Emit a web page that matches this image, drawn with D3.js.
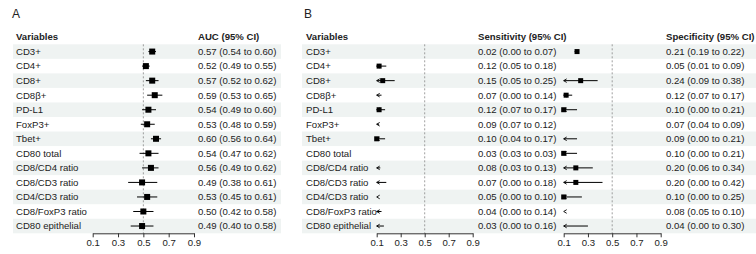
<!DOCTYPE html>
<html>
<head>
<meta charset="utf-8">
<script src="https://cdn.jsdelivr.net/npm/d3@7"></script>
<style>
  body { margin: 0; background: #fff; }
  svg text { font-family: "Liberation Sans", Arial, sans-serif; fill: #222; }
</style>
</head>
<body>
<svg id="chart" width="756" height="254"></svg>
<script>
// rows
var variables = ["CD3+", "CD4+", "CD8+", "CD8\u03b2+", "PD-L1", "FoxP3+", "Tbet+", "CD80 total",
  "CD8/CD4 ratio", "CD8/CD3 ratio", "CD4/CD3 ratio", "CD8/FoxP3 ratio", "CD80 epithelial"];

// panel A - AUC
var auc   = [0.57, 0.52, 0.57, 0.59, 0.54, 0.53, 0.60, 0.54, 0.56, 0.49, 0.53, 0.50, 0.49];
var aucLo = [0.54, 0.49, 0.52, 0.53, 0.49, 0.48, 0.56, 0.47, 0.49, 0.38, 0.45, 0.42, 0.40];
var aucHi = [0.60, 0.55, 0.62, 0.65, 0.60, 0.59, 0.64, 0.62, 0.62, 0.61, 0.61, 0.58, 0.58];

// panel B - sensitivity / specificity
var sens   = [0.02, 0.12, 0.15, 0.07, 0.12, 0.09, 0.10, 0.03, 0.08, 0.07, 0.05, 0.04, 0.03];
var sensLo = [0.00, 0.05, 0.05, 0.00, 0.07, 0.07, 0.04, 0.03, 0.03, 0.00, 0.00, 0.00, 0.00];
var sensHi = [0.07, 0.18, 0.25, 0.14, 0.17, 0.12, 0.17, 0.03, 0.13, 0.18, 0.10, 0.14, 0.16];
var spec   = [0.21, 0.05, 0.24, 0.12, 0.10, 0.07, 0.09, 0.10, 0.20, 0.20, 0.10, 0.08, 0.04];
var specLo = [0.19, 0.01, 0.09, 0.07, 0.00, 0.04, 0.00, 0.00, 0.06, 0.00, 0.00, 0.05, 0.00];
var specHi = [0.22, 0.09, 0.38, 0.17, 0.21, 0.09, 0.21, 0.21, 0.34, 0.42, 0.25, 0.10, 0.30];

var tickValues = [0.1, 0.3, 0.5, 0.7, 0.9];

var fmt = d3.format(".2f");
function ciLabel(v, lo, hi) {
  return fmt(v) + " (" + fmt(lo) + " to " + fmt(hi) + ")";
}

var svg = d3.select("#chart");
var fontSize = 9.6;

var yScale = d3.scaleBand()
  .domain(variables)
  .range([44.3, 233.3]);
var bh = yScale.bandwidth();
function yMid(i) { return yScale(variables[i]) + bh / 2; }

var axisY = 233.3;

function drawBands(x0, x1) {
  svg.append("g").selectAll("rect")
    .data(variables.filter(function(d, i) { return i % 2 === 0; }))
    .enter().append("rect")
      .attr("x", x0)
      .attr("width", x1 - x0)
      .attr("y", function(d) { return yScale(d); })
      .attr("height", bh)
      .attr("fill", "#eff3f2");
}

function drawTextCol(x, header, labels) {
  var g = svg.append("g");
  g.append("text")
    .attr("x", x).attr("y", 37).attr("dy", "0.35em")
    .style("font-size", fontSize + "px").style("font-weight", "bold")
    .text(header);
  g.selectAll("text.cell")
      .data(labels)
    .enter().append("text")
      .classed("cell", true)
      .attr("x", x)
      .attr("y", function(d, i) { return yMid(i); })
      .attr("dy", "0.35em")
      .style("font-size", fontSize + "px")
      .text(function(d) { return d; });
}

function drawForest(x0, x1, est, lo, hi, boxSize) {
  var xScale = d3.scaleLinear().domain([0.1, 0.9]).range([x0, x1]);
  var g = svg.append("g");

  // reference line
  g.append("line")
    .attr("x1", xScale(0.5)).attr("x2", xScale(0.5))
    .attr("y1", 44.3).attr("y2", axisY)
    .attr("stroke", "#888").attr("stroke-width", 0.8)
    .attr("stroke-dasharray", "2,2");

  var axis = d3.axisBottom(xScale)
    .tickValues(tickValues)
    .tickFormat(d3.format(".1f"))
    .tickSize(4)
    .tickSizeOuter(0);
  var ax = g.append("g")
    .attr("transform", "translate(0," + axisY + ")")
    .call(axis);
  ax.select(".domain").attr("stroke", "#333");
  ax.selectAll(".tick line").attr("stroke", "#333");
  ax.selectAll(".tick text")
    .attr("y", 6)
    .style("font-size", fontSize + "px")
    .style("font-family", "'Liberation Sans', Arial, sans-serif")
    .attr("fill", "#222");

  est.forEach(function(v, i) {
    var y = yMid(i);
    if (hi[i] >= 0.1) {
      var a = Math.max(lo[i], 0.1), b = Math.min(hi[i], 0.9);
      g.append("line")
        .attr("x1", xScale(a)).attr("x2", xScale(b))
        .attr("y1", y).attr("y2", y)
        .attr("stroke", "#000").attr("stroke-width", 1);
      if (lo[i] < 0.1) {
        var tip = xScale(0.1);
        g.append("path")
          .attr("d", "M" + (tip + 3) + "," + (y - 1.8) + "L" + tip + "," + y + "L" + (tip + 3) + "," + (y + 1.8))
          .attr("fill", "none").attr("stroke", "#000").attr("stroke-width", 0.9);
      }
    }
    if (v >= 0.1 && v <= 0.9) {
      g.append("rect")
        .attr("x", xScale(v) - boxSize / 2)
        .attr("y", y - boxSize / 2)
        .attr("width", boxSize).attr("height", boxSize)
        .attr("fill", "#000");
    }
  });
}

// panel labels
svg.append("text").attr("x", 12).attr("y", 18).style("font-size", "12px").text("A");
svg.append("text").attr("x", 304).attr("y", 18).style("font-size", "12px").text("B");

// panel A
drawBands(13, 281);
drawTextCol(16, "Variables", variables);
drawForest(92.7, 194, auc, aucLo, aucHi, 6);
drawTextCol(198, "AUC (95% CI)", auc.map(function(v, i) { return ciLabel(v, aucLo[i], aucHi[i]); }));

// panel B
drawBands(302, 756);
drawTextCol(306, "Variables", variables);
drawForest(376.7, 472.7, sens, sensLo, sensHi, 5);
drawTextCol(478, "Sensitivity (95% CI)", sens.map(function(v, i) { return ciLabel(v, sensLo[i], sensHi[i]); }));
drawForest(563.7, 660.7, spec, specLo, specHi, 5);
drawTextCol(666, "Specificity (95% CI)", spec.map(function(v, i) { return ciLabel(v, specLo[i], specHi[i]); }));
</script>
</body>
</html>
